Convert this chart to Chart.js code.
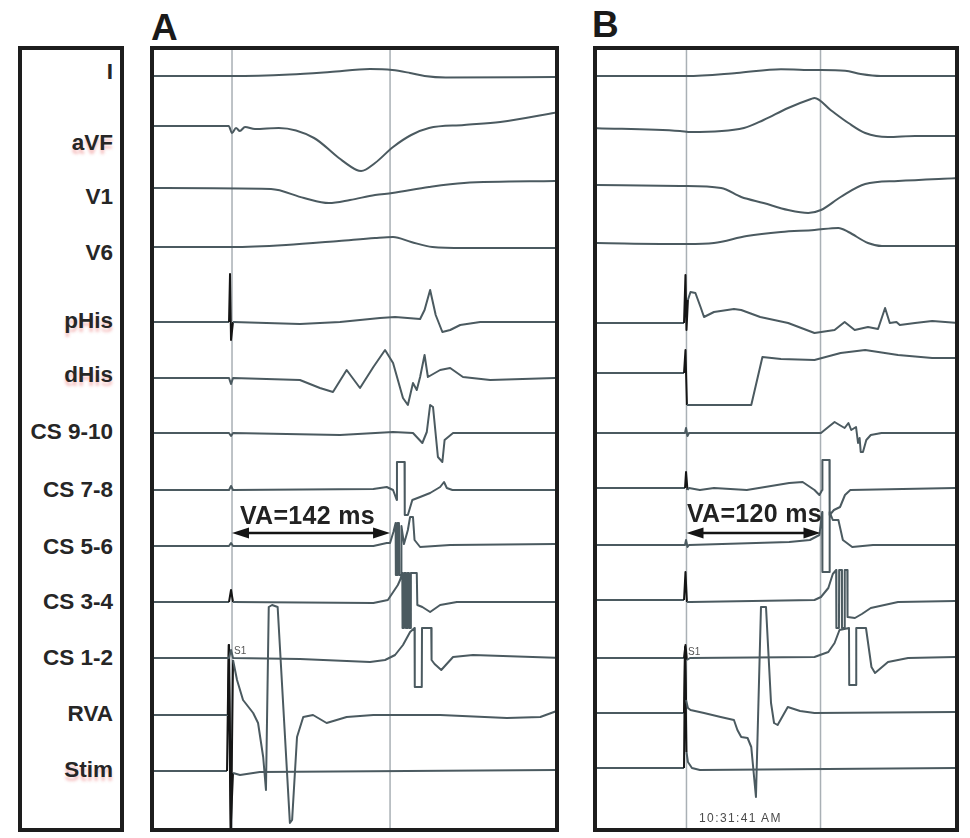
<!DOCTYPE html>
<html><head><meta charset="utf-8">
<script src="https://cdn.jsdelivr.net/npm/chart.js@4.4.1/dist/chart.umd.min.js"></script>
<style>
body{margin:0;background:#fff;width:970px;height:838px;position:relative;overflow:hidden;font-family:"Liberation Sans",Arial,Helvetica,sans-serif;color:#222;}
.box{position:absolute;border:4px solid #1d1d1d;box-sizing:border-box;}
.box canvas{display:block;}
.lab{position:absolute;left:0;width:113px;text-align:right;font-weight:bold;font-size:22.5px;line-height:22px;white-space:nowrap;color:#262626;}
.hl{text-shadow:0 4px 3px rgba(235,120,120,0.45);}
.big{position:absolute;font-weight:bold;font-size:37px;line-height:36px;color:#1a1a1a;}
.va{position:absolute;font-weight:bold;font-size:25px;line-height:24px;letter-spacing:0.3px;white-space:nowrap;color:#222;}
.small{position:absolute;font-size:10px;line-height:10px;color:#555;white-space:nowrap;}
</style></head><body>

<div class="box" style="left:18px;top:46px;width:106px;height:786px"></div>
<div class="box" style="left:150px;top:46px;width:409px;height:786px"><canvas id="cA" width="401" height="778"></canvas></div>
<div class="box" style="left:593px;top:46px;width:366px;height:786px"><canvas id="cB" width="358" height="778"></canvas></div>
<div class="big" style="left:151px;top:10px">A</div>
<div class="big" style="left:592px;top:7px">B</div>
<div id="labels"></div>
<div class="va" id="vaA" style="left:240px;top:503px"></div>
<div class="va" id="vaB" style="left:687px;top:501px"></div>
<div class="small" style="left:234px;top:646px">S1</div>
<div class="small" style="left:688px;top:647px">S1</div>
<div class="small" style="left:699px;top:812px;font-size:12px;line-height:12px;letter-spacing:1.4px;color:#4a4a4a">10:31:41 AM</div>

<script>
// ---------- channel names (row labels) ----------
const CH_NAMES = ['I','aVF','V1','V6','pHis','dHis','CS 9-10','CS 7-8','CS 5-6','CS 3-4','CS 1-2','RVA','Stim'];
const CH_HIGHLIGHT = ['aVF','pHis','dHis','Stim'];
const CH_SMOOTH = [true,true,true,true,false,false,false,false,false,false,false,false,false];

// ---------- interval markers (ms after stimulus) ----------
const VA_A = 142;
const VA_B = 120;
const MARKS_A = [0, VA_A];
const MARKS_B = [0, VA_B];

// ---------- traces: [time ms, deflection] ----------
// Panel A
const A_I = [[-71,0],[0,0],[52,1.5],[88,4],[124,7],[144,6],[160,3],[173,0],[192,-1.5],[294,-1]];
const A_aVF = [[-71,0],[-3,0],[0,-7],[3.6,-2],[7,-5],[11.7,-1],[20.6,-3],[42,-2],[73.7,-12],[96,-32],[112,-44],[116,-45],[128.5,-37],[144.7,-21],[161,-9],[177,-2],[208.5,1],[241,4],[294,14]];
const A_V1 = [[-71,0],[35,-1],[64.7,-10],[87,-15],[106,-12],[128.5,-7],[144,-5],[177,1],[208.5,5],[294,7]];
const A_V6 = [[-71,0],[0,0],[48.5,2],[96,6],[128.5,9],[144.7,10],[161,5],[180,0],[208.5,-1],[294,-1]];
const A_pHis = [[-71,0],[-2.7,0],[-1.8,48],[-0.9,-18],[0.9,0],[61,-2],[97,0],[133,4],[146.5,5],[169,3],[173,12],[178,32],[183,7],[189,-10],[196,-8],[205,-3],[223,0],[294,0]];
const A_dHis = [[-71,0],[-2.7,0],[-0.9,-6],[0.9,0],[61,-2],[79,-10],[90.7,-14],[103,8],[115,-10],[127,11],[137.5,28],[144.7,15],[153.6,-20],[158,-27],[162.6,-5],[166,-12],[169,1],[173,23],[176,1],[187,8],[196,10],[207.5,1],[232,-2],[294,0]];
const A_CS910 = [[-71,0],[-2.7,0],[-0.9,-3],[0.9,0],[97,-2],[144.7,1],[162.6,0],[171,-10],[175,1],[178,28],[180.6,26],[185,-24],[189,-29],[191,-7],[198.6,0],[294,0]];
const A_CS78 = [[-71,0],[-2.7,0],[-0.9,4],[0.9,0],[127,1],[139,3],[144.7,0],[148,-10],[148.2,28],[155,28],[155.2,-25],[158,-25],[162,-10],[169,-7],[178,-3],[187,3],[190.5,8],[193,2],[198,0],[294,0]];
const A_CS56 = [[-71,0],[-2.7,0],[-0.9,3],[0.9,0],[127,0],[139,3],[142,3],[145,14],[147,23],[147.2,-29],[148.5,-29],[148.7,23],[150,23],[150.2,-29],[152,-29],[152.2,20],[154.5,2],[158,16],[160,29],[162.6,29],[164,6],[169,-1],[196,1],[294,2]];
const A_CS34 = [[-71,0],[-2.7,0],[-0.9,12],[0.9,0],[127,-1],[140,2],[149,17],[151,22],[153,29],[153.2,-26],[154.5,-26],[154.7,29],[156,29],[156.2,-26],[157.5,-26],[157.7,29],[159,29],[159.2,-26],[160.5,-26],[160.7,29],[166,29],[166.5,-3],[171,-5],[178,-10],[187,-3],[202,0],[294,0]];
const A_CS12 = [[-71,0],[-2.7,0],[-0.9,8],[0.9,0],[61,-1],[124,-4],[137.5,-2],[146.5,3],[153.6,13],[160,26],[164,30],[164.2,-29],[170.5,-29],[170.7,30],[179,30],[179.3,-2],[182,-6],[188,-12],[198.6,1],[216.5,3],[294,0]];
const A_RVA = [[-71,0],[-3.6,0],[-2.7,70],[-0.9,-115],[0.9,55],[4.5,35],[9.9,15],[19,2],[23.4,-8],[28,-42],[30.5,-75],[33,108],[36,110],[41,108],[52,-108],[54,-105],[58.4,-22],[64,-2],[72.8,0],[85,-8],[103,-2],[127,0],[187,0],[247,-3],[277,-2],[294,5]];
const A_Stim = [[-71,0],[-4.5,0],[-3,126],[-1.3,-59],[0.9,-2],[7.2,-4],[25,-1],[294,1]];

// Panel B
const B_I = [[-84,0],[0,0],[45,3],[84.6,6.7],[114,6],[142,5.3],[156,2],[174,0],[244,0]];
const B_aVF = [[-84,0],[-5.8,-3],[4,-4],[51.5,0],[69,8],[91,20],[111.5,29],[114.6,30],[129,18],[145,5],[160,-5],[180.4,-9],[204.6,-8],[244,-8]];
const B_V1 = [[-84,0],[-5.8,-1],[31,-3],[49,-12],[69,-18],[91,-25],[109,-28],[120.4,-25],[138,-12],[160,1],[189.4,4],[244,7]];
const B_V6 = [[-84,0],[0.4,-1],[24.6,0],[54,7],[84.6,11],[114.6,13],[136,15],[145,11],[162.5,0],[175,-3],[244,-3]];
const B_pHis = [[-84,0],[-2.2,0],[-0.9,48],[0,-7],[1.3,23],[3.6,31],[8,30],[12.6,16],[15.7,6],[24.6,11],[42.5,14],[49,13],[66,6],[91,0],[114.6,-10],[132.6,-7],[141.6,1],[150.6,-7],[162.5,-4],[171.5,-6],[177.8,15],[182,0],[188,1],[191,-2],[204.6,0],[220,2],[244,0]];
const B_dHis = [[-84,0],[-2.2,0],[-0.9,23],[0.4,-32],[3.6,-32],[58,-32],[68,16],[84.6,14],[114.6,13],[138,20],[160,23],[189.4,18],[220,15],[244,15]];
const B_CS910 = [[-84,0],[-1.3,0],[-0.4,5],[0.9,-3],[2.2,0],[120.4,0],[127,6],[132.6,11],[137,8],[141.6,5],[145,10],[147.5,3],[151.8,6],[153.6,-10],[155,-5],[156,-19],[158,-19],[161,-7],[165,-2],[174.6,0],[244,0]];
const B_CS78 = [[-84,0],[-1.3,0],[-0.4,16],[0.9,-2],[2.2,0],[12,-2],[24.6,0],[54,-2],[92,5],[104,6],[114.6,-2],[119,-7],[121.5,-2],[121.7,28],[128,28],[128.2,-27],[132,-22],[137.5,-19],[141.9,-7],[146.7,-2],[244,0]];
const B_CS56 = [[-84,0],[-1.3,0],[-0.4,5],[0.9,-2],[2.2,0],[92,3],[110.5,5],[119,10],[121.5,33],[121.7,-27],[128,-27],[128.2,33],[131,25],[136,25],[140,5],[148.4,-2],[167,0],[244,0]];
const B_CS34 = [[-84,0],[-2.2,0],[-0.9,28],[0.4,-2],[3.6,-2],[114.6,0],[120.4,3],[127,12],[131,26],[134,30],[134.2,-28],[136.5,-28],[136.7,30],[139,30],[139.2,-28],[141.5,-28],[141.7,30],[144,30],[144.2,-17],[150.8,-18],[157,-14],[165,-8],[189.4,-2],[244,-1]];
const B_CS12 = [[-84,0],[-2.2,0],[-0.9,13],[0.4,-2],[3.1,0],[114.6,1],[127,6],[132.6,15],[137,28],[145.5,30],[145.7,-27],[151.8,-27],[152,30],[160.7,30],[165.6,-9],[168.8,-15],[180.4,-4],[198.4,0],[244,1]];
const B_RVA = [[-84,0],[-2.2,0],[-1.3,66],[-0.4,13],[1.3,5],[3.6,3],[15.7,0],[30.6,-4],[42.5,-7],[45.6,-17],[49,-24],[54.7,-25],[58,-34],[62.2,-84],[66.7,106],[71.2,106],[75.7,10],[78.4,-10],[81.6,-12],[90.7,6],[101.7,2],[114.6,0],[244,1]];
const B_Stim = [[-84,0],[-2.2,0],[-1.3,120],[0,16],[1.3,6],[4.9,0],[12,-2],[244,0]];

const TRACES_A = [A_I,A_aVF,A_V1,A_V6,A_pHis,A_dHis,A_CS910,A_CS78,A_CS56,A_CS34,A_CS12,A_RVA,A_Stim];
const TRACES_B = [B_I,B_aVF,B_V1,B_V6,B_pHis,B_dHis,B_CS910,B_CS78,B_CS56,B_CS34,B_CS12,B_RVA,B_Stim];

// ---------- layout (page px) ----------
const PANEL_TOP = 50, PANEL_H = 778;
const ROW_Y_A = [76,126,188,247,322,378,433,490,546,602,658,715,771];
const ROW_Y_B = [76,128,185,243,323,373,433,488,545,600,658,713,768];
const LABEL_Y = [72,143,197,253,321,375,432,490,547,602,658,714,770];
const ARROW_Y = 533;

const TRACE_COLOR = '#4b5a60';
const ARTIFACT_COLOR = '#151515';
const MARK_COLOR = '#a9b0b5';

// labels
const labDiv = document.getElementById('labels');
CH_NAMES.forEach((n,i)=>{
  const d = document.createElement('div');
  d.className = 'lab' + (CH_HIGHLIGHT.includes(n)?' hl':'');
  d.style.top = (LABEL_Y[i]-11)+'px';
  d.textContent = n;
  labDiv.appendChild(d);
});
document.getElementById('vaA').textContent = 'VA=' + VA_A + ' ms';
document.getElementById('vaB').textContent = 'VA=' + VA_B + ' ms';

const arrowPlugin = {
  id: 'vaArrow',
  afterDatasetsDraw(chart, args, opts) {
    const {ctx, scales:{x, y}} = chart;
    const x0 = x.getPixelForValue(0), x1 = x.getPixelForValue(opts.ms), yy = y.getPixelForValue(opts.y);
    const L = 17, W = 5.5;
    ctx.save();
    ctx.strokeStyle = '#141414'; ctx.fillStyle = '#141414'; ctx.lineWidth = 2.6;
    ctx.beginPath(); ctx.moveTo(x0 + L - 3, yy); ctx.lineTo(x1 - L + 3, yy); ctx.stroke();
    ctx.beginPath(); ctx.moveTo(x0, yy); ctx.lineTo(x0 + L, yy - W); ctx.lineTo(x0 + L, yy + W); ctx.closePath(); ctx.fill();
    ctx.beginPath(); ctx.moveTo(x1, yy); ctx.lineTo(x1 - L, yy - W); ctx.lineTo(x1 - L, yy + W); ctx.closePath(); ctx.fill();
    ctx.restore();
  }
};

function makePanel(id, tMin, tMax, traces, rowY, marks, va) {
  const datasets = [];
  marks.forEach(m => datasets.push({
    data: [{x: m, y: 0}, {x: m, y: PANEL_H}],
    showLine: true, borderColor: MARK_COLOR, borderWidth: 1.5, pointRadius: 0, order: 5
  }));
  traces.forEach((tr, i) => {
    const base = rowY[i] - PANEL_TOP;
    const ds = {
      data: tr.map(p => ({x: p[0], y: base - p[1]})),
      showLine: true, borderColor: TRACE_COLOR, borderWidth: 2, pointRadius: 0, tension: 0,
      borderJoinStyle: 'round', order: 1,
      segment: {
        borderColor: c => (c.p0.parsed.x >= -5 && c.p1.parsed.x <= 1.5 && Math.abs(c.p1.parsed.y - c.p0.parsed.y) > 10) ? ARTIFACT_COLOR : TRACE_COLOR
      }
    };
    if (CH_SMOOTH[i]) ds.cubicInterpolationMode = 'monotone';
    datasets.push(ds);
  });
  return new Chart(document.getElementById(id), {
    type: 'scatter',
    data: {datasets},
    plugins: [arrowPlugin],
    options: {
      responsive: false, animation: false, events: [],
      layout: {padding: 0, autoPadding: false},
      scales: {
        x: {type: 'linear', min: tMin, max: tMax, display: false},
        y: {type: 'linear', min: 0, max: PANEL_H, reverse: true, display: false}
      },
      plugins: {legend: {display: false}, tooltip: {enabled: false},
        vaArrow: {ms: va, y: ARROW_Y - PANEL_TOP}}
    }
  });
}

makePanel('cA', -70.1, 290.2, TRACES_A, ROW_Y_A, MARKS_A, VA_A);
makePanel('cB', -80.1, 240.4, TRACES_B, ROW_Y_B, MARKS_B, VA_B);
</script>
</body></html>
